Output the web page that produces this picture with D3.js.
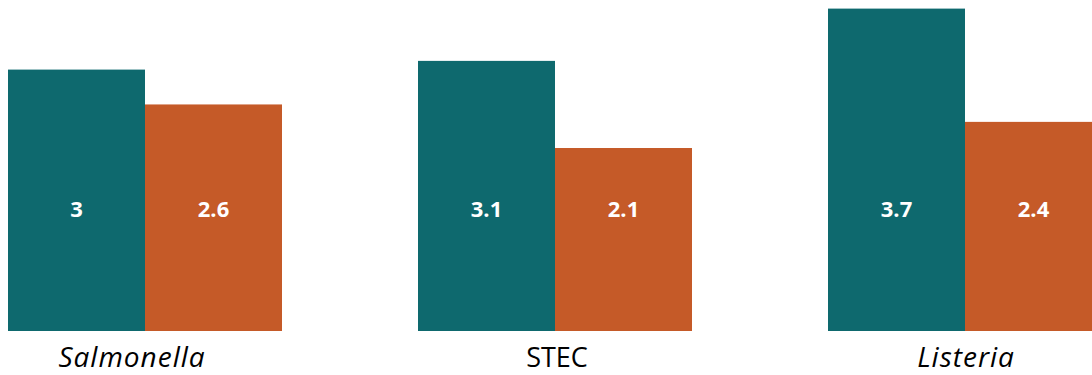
<!DOCTYPE html>
<html><head><meta charset="utf-8">
<script src="https://cdn.jsdelivr.net/npm/d3@7"></script>
<style>html,body{margin:0;padding:0;background:#fff;overflow:hidden}</style>
</head><body>
<svg id="c" width="1092" height="375"></svg>
<script>
const categories = ["Salmonella", "STEC", "Listeria"];
const italicCats = ["Salmonella", "Listeria"];
const series = ["Series 1", "Series 2"];
const series1 = [3, 3.1, 3.7];
const series2 = [2.6, 2.1, 2.4];
const colors = ["#0E696E", "#C55A28"];

const svg = d3.select("#c");
const x = d3.scaleBand().domain(categories).range([8, 1102]).paddingInner(136/410).paddingOuter(0);
const xs = d3.scaleBand().domain(series).range([0, x.bandwidth()]).padding(0);
const y = d3.scaleLinear().domain([0, 3.7]).range([331, 8.6]);

const data = categories.map((c, i) => ({c, vals: [series1[i], series2[i]]}));
const g = svg.selectAll("g.grp").data(data).join("g").attr("class","grp")
  .attr("transform", d => `translate(${x(d.c)},0)`);
g.selectAll("rect").data(d => d.vals.map((v, j) => ({v, s: series[j], j}))).join("rect")
  .attr("x", d => xs(d.s)).attr("width", xs.bandwidth())
  .attr("y", d => y(d.v)).attr("height", d => y(0) - y(d.v))
  .attr("fill", d => colors[d.j]);
g.selectAll("text").data(d => d.vals.map((v, j) => ({v, s: series[j]}))).join("text")
  .attr("x", d => xs(d.s) + xs.bandwidth()/2).attr("y", 211)
  .attr("text-anchor","middle").attr("dominant-baseline","middle")
  .attr("fill","#fff").attr("font-family","'Open Sans', sans-serif").attr("font-weight","bold")
  .attr("font-size", 22).text(d => d.v);

svg.selectAll("text.cat").data(categories).join("text").attr("class","cat")
  .attr("x", d => x(d) + x.bandwidth()/2 + (d === "Salmonella" ? -13 : d === "Listeria" ? 1 : 2))
  .attr("y", 367).attr("text-anchor","middle")
  .attr("font-family","'Open Sans', sans-serif")
  .attr("font-size", d => italicCats.includes(d) ? 28 : 27)
  .attr("font-style", d => italicCats.includes(d) ? "italic" : "normal")
  .attr("letter-spacing", d => italicCats.includes(d) ? "1px" : "0px")
  .attr("fill","#000").text(d => d);
</script>
</body></html>
